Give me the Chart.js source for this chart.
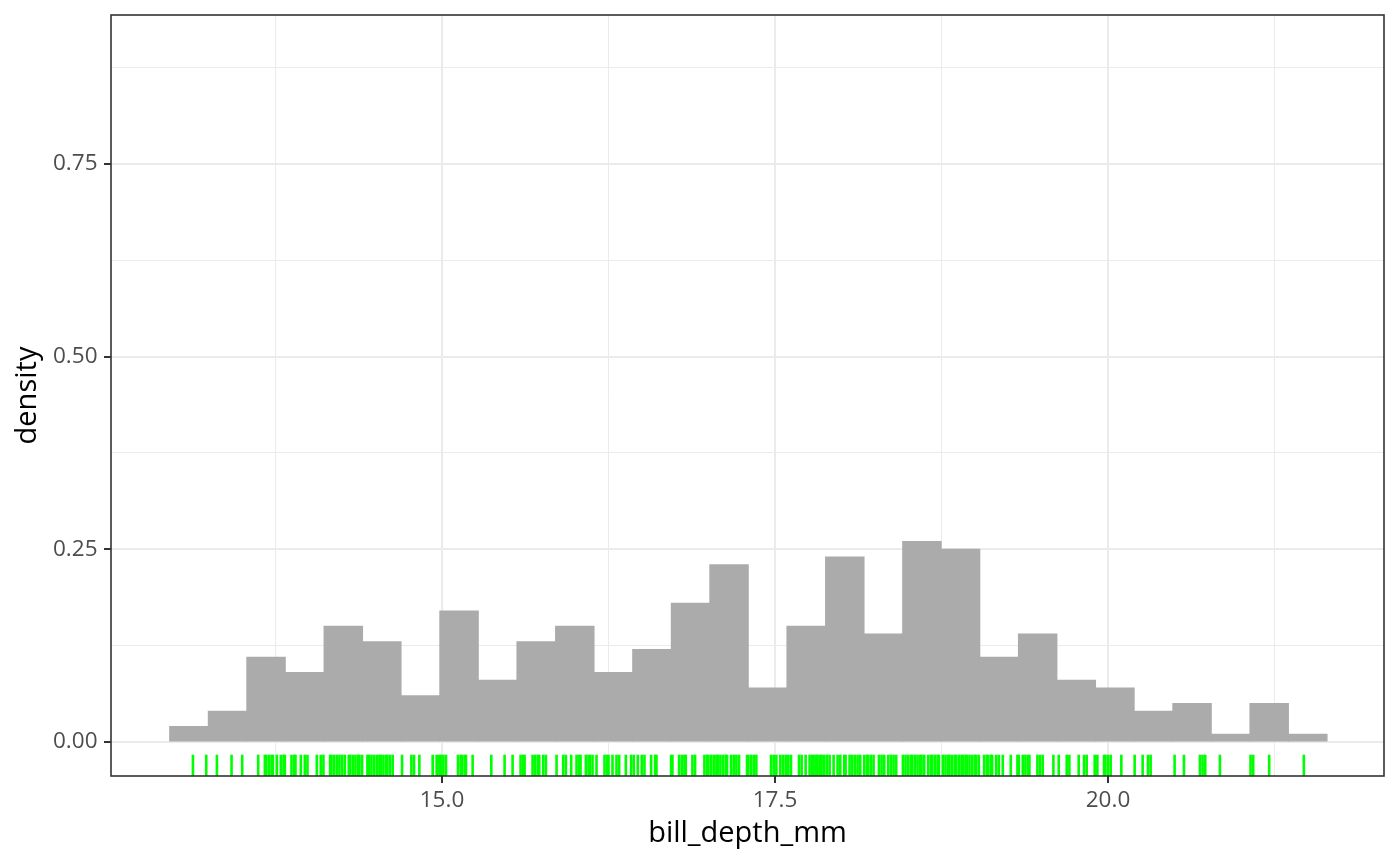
<!DOCTYPE html>
<html>
<head>
<meta charset="utf-8">
<script src="https://cdn.jsdelivr.net/npm/chart.js@4"></script>
<style>
  body { margin: 0; background: #fff; }
  #wrap { width: 1400px; height: 866px; }
</style>
</head>
<body>
<div id="wrap"><canvas id="myChart" width="1400" height="866"></canvas></div>
<script>
//---Data---
const binCenters = [13.100, 13.390, 13.679, 13.969, 14.259, 14.548, 14.838, 15.128, 15.417, 15.707,
  15.997, 16.286, 16.576, 16.866, 17.155, 17.445, 17.734, 18.024, 18.314, 18.603,
  18.893, 19.183, 19.472, 19.762, 20.052, 20.341, 20.631, 20.921, 21.210, 21.500];
const density = [0.02, 0.04, 0.11, 0.09, 0.15, 0.13, 0.06, 0.17, 0.08, 0.13,
  0.15, 0.09, 0.12, 0.18, 0.23, 0.07, 0.15, 0.24, 0.14, 0.26,
  0.25, 0.11, 0.14, 0.08, 0.07, 0.04, 0.05, 0.01, 0.05, 0.01];
const rugValues = [13.13, 13.23, 13.31, 13.42, 13.50, 13.62,
  13.67, 13.68, 13.70, 13.72, 13.73, 13.76, 13.79, 13.81, 13.82,
  13.87, 13.89, 13.90, 13.94, 13.97, 13.99,
  14.06, 14.09, 14.11,
  14.16, 14.17, 14.19, 14.21, 14.23, 14.25, 14.27,
  14.30, 14.31, 14.33, 14.35, 14.37, 14.38, 14.40, 14.44, 14.45,
  14.47, 14.49, 14.51, 14.53, 14.54, 14.56, 14.58, 14.59, 14.61, 14.63,
  14.70, 14.77, 14.79, 14.83, 14.93,
  14.96, 14.98, 14.99, 15.01, 15.03,
  15.12, 15.14, 15.15, 15.17, 15.18, 15.23, 15.37, 15.47, 15.53,
  15.59, 15.61, 15.62,
  15.68, 15.70, 15.72, 15.73, 15.76, 15.78, 15.86,
  15.91, 15.93, 15.97, 16.01, 16.03, 16.04,
  16.08, 16.10, 16.11, 16.13, 16.16,
  16.22, 16.24, 16.25, 16.28, 16.31, 16.33, 16.38, 16.42, 16.44, 16.47,
  16.50, 16.52, 16.57, 16.60, 16.61,
  16.72, 16.73, 16.78, 16.80, 16.82, 16.83, 16.88, 16.90,
  16.97, 16.99, 17.00, 17.02, 17.04, 17.06, 17.07, 17.09, 17.11, 17.13, 17.14,
  17.17, 17.19, 17.21, 17.23,
  17.29, 17.30, 17.32, 17.34, 17.36,
  17.47, 17.49, 17.51, 17.54, 17.56, 17.58, 17.60, 17.62,
  17.68, 17.70, 17.73,
  17.76, 17.78, 17.79, 17.81, 17.82, 17.84, 17.85, 17.87, 17.89, 17.91, 17.94, 17.97, 17.99,
  18.02, 18.03, 18.06, 18.08, 18.10, 18.12, 18.14, 18.17, 18.19, 18.20, 18.22, 18.24,
  18.28, 18.30, 18.32, 18.35, 18.37, 18.39, 18.41,
  18.46, 18.48, 18.50, 18.52, 18.53, 18.55, 18.57, 18.59, 18.60, 18.62,
  18.65, 18.67, 18.68, 18.70, 18.72, 18.73,
  18.76, 18.78, 18.80, 18.81, 18.83, 18.85, 18.86, 18.88, 18.90, 18.91, 18.93, 18.94,
  18.96, 18.98, 19.00, 19.01, 19.03, 19.07, 19.09, 19.10, 19.12, 19.13, 19.16, 19.18, 19.21,
  19.27, 19.32, 19.33, 19.36, 19.38, 19.40, 19.41, 19.47, 19.49, 19.51,
  19.59, 19.63, 19.69, 19.71, 19.78, 19.82, 19.84, 19.90, 19.92,
  19.97, 19.98, 20.00, 20.02, 20.10,
  20.20, 20.26, 20.30, 20.32, 20.50, 20.57, 20.69, 20.71, 20.73, 20.84,
  21.07, 21.09, 21.21, 21.47];
const xMajor = [15, 17.5, 20];
const xMinor = [13.75, 16.25, 18.75, 21.25];
const yMajor = [0, 0.25, 0.5, 0.75];
const yMinor = [0.125, 0.375, 0.625, 0.875];
//----------

const tickFont = { family: 'Open Sans', size: 22.5, lineHeight: 1.2 };
const titleFont = { family: 'Open Sans', size: 29, lineHeight: 1 };
const gridColor = '#EBEBEB';

function buildTicks(major, minor) {
  return (scale) => {
    scale.ticks = major.concat(minor).sort((a, b) => a - b).map(v => ({ value: v }));
  };
}

function isMajor(list, c) {
  return !!(c.tick && list.includes(c.tick.value));
}

function noPadding(scale) {
  scale.paddingTop = 0;
  scale.paddingBottom = 0;
  scale.paddingLeft = 0;
  scale.paddingRight = 0;
}

//--rug + panel border
const rugAndBorder = {
  id: 'rugAndBorder',
  afterDatasetsDraw(chart) {
    const { ctx, chartArea, scales } = chart;
    const len = chartArea.height * 0.028;
    ctx.save();
    ctx.strokeStyle = '#00FF00';
    ctx.lineWidth = 2.6;
    rugValues.forEach((v) => {
      const px = scales.x.getPixelForValue(v);
      ctx.beginPath();
      ctx.moveTo(px, chartArea.bottom);
      ctx.lineTo(px, chartArea.bottom - len);
      ctx.stroke();
    });
    ctx.strokeStyle = '#333333';
    ctx.lineWidth = 1.6;
    ctx.strokeRect(chartArea.left, chartArea.top, chartArea.width, chartArea.height);
    ctx.restore();
  }
};

const ctx = document.getElementById('myChart').getContext('2d');

new Chart(ctx, {
  type: 'bar',
  data: {
    datasets: [{
      data: binCenters.map((x, i) => ({ x: x, y: density[i] })),
      backgroundColor: '#ABABAB',
      borderWidth: 0,
      inflateAmount: 0.5,
      barPercentage: 1,
      categoryPercentage: 1
    }]
  },
  options: {
    responsive: false,
    devicePixelRatio: 1,
    animation: false,
    layout: { padding: { left: 0, top: 15, right: 16, bottom: 0 } },
    plugins: {
      legend: { display: false },
      tooltip: { enabled: false }
    },
    scales: {
      x: {
        type: 'linear',
        offset: false,
        min: 12.515,
        max: 22.072,
        afterBuildTicks: buildTicks(xMajor, xMinor),
        afterFit: (scale) => { scale.height = 90; noPadding(scale); },
        border: { display: false },
        grid: {
          offset: false,
          color: gridColor,
          lineWidth: (c) => isMajor(xMajor, c) ? 2 : 1,
          tickColor: (c) => isMajor(xMajor, c) ? '#333333' : 'rgba(0,0,0,0)',
          tickWidth: 2,
          tickLength: 7
        },
        ticks: {
          autoSkip: false,
          maxRotation: 0,
          padding: 4,
          color: '#4D4D4D',
          font: tickFont,
          callback: (v) => xMajor.includes(v) ? v.toFixed(1) : ''
        },
        title: {
          display: true,
          text: 'bill_depth_mm',
          color: '#000',
          font: titleFont,
          padding: { top: 0, bottom: 17.5 }
        }
      },
      y: {
        min: -0.0441,
        max: 0.943,
        afterBuildTicks: buildTicks(yMajor, yMinor),
        afterFit: (scale) => { scale.width = 111; noPadding(scale); },
        border: { display: false },
        grid: {
          color: gridColor,
          lineWidth: (c) => isMajor(yMajor, c) ? 2 : 1,
          tickColor: (c) => isMajor(yMajor, c) ? '#333333' : 'rgba(0,0,0,0)',
          tickWidth: 2,
          tickLength: 7
        },
        ticks: {
          autoSkip: false,
          padding: 6.5,
          color: '#4D4D4D',
          font: tickFont,
          callback: (v) => yMajor.includes(v) ? v.toFixed(2) : ''
        },
        title: {
          display: true,
          text: 'density',
          color: '#000',
          font: titleFont,
          padding: { top: 13.5, bottom: 0 }
        }
      }
    }
  },
  plugins: [rugAndBorder]
});
</script>
</body>
</html>
